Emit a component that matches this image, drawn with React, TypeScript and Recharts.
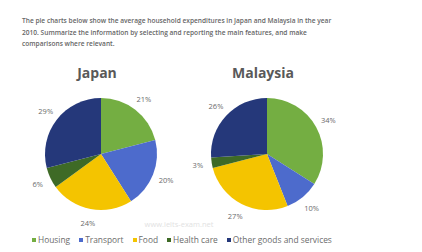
import { PieChart, Pie, Cell } from "recharts";

const categories = ["Housing", "Transport", "Food", "Health care", "Other goods and services"];
const colors = ["#74ae42", "#4d6bcc", "#f4c400", "#3e6a26", "#25387a"];
const japanValues = [21, 20, 24, 6, 29];
const malaysiaValues = [34, 10, 27, 3, 26];

const introLines = [
  "The pie charts below show the average household expenditures in Japan and Malaysia in the year",
  "2010. Summarize the information by selecting and reporting the main features, and make",
  "comparisons where relevant.",
];

const font = "'Open Sans', 'DejaVu Sans', sans-serif";
const RAD = Math.PI / 180;

const toData = (values: number[]) => categories.map((name, i) => ({ name, value: values[i] }));
const japanData = toData(japanValues);
const malaysiaData = toData(malaysiaValues);

const renderLabel = (props: any) => {
  const { cx, cy, midAngle, outerRadius, value } = props;
  const r = outerRadius + 14;
  const x = cx + r * Math.cos(-midAngle * RAD);
  const y = cy + r * Math.sin(-midAngle * RAD);
  return (
    <text x={x} y={y} fill="#6b6b6b" fontSize={7.5} fontFamily={font} textAnchor="middle" dominantBaseline="central">
      {value}%
    </text>
  );
};

const App = () => {
  return (
    <div style={{ position: "absolute", left: 0, top: 0, width: 422, height: 252, background: "#fff", fontFamily: font }}>
      <div style={{ position: "absolute", left: 22, top: 15, fontSize: 6.6, lineHeight: "11.5px", fontWeight: 600, color: "#666", whiteSpace: "nowrap" }}>
        {introLines.map((l) => (
          <div key={l}>{l}</div>
        ))}
      </div>
      <div style={{ position: "absolute", left: 47, width: 100, top: 63, textAlign: "center", fontSize: 14, fontWeight: 700, color: "#595959" }}>
        Japan
      </div>
      <div style={{ position: "absolute", left: 213, width: 100, top: 63, textAlign: "center", fontSize: 14, fontWeight: 700, color: "#595959" }}>
        Malaysia
      </div>
      <div style={{ position: "absolute", left: 0, top: 0 }}>
        <PieChart width={422} height={252}>
          <Pie
            data={japanData}
            dataKey="value"
            cx={96}
            cy={149}
            outerRadius={56}
            startAngle={90}
            endAngle={-270}
            stroke="none"
            label={renderLabel}
            labelLine={false}
            isAnimationActive={false}
          >
            {japanData.map((d, i) => (
              <Cell key={d.name} fill={colors[i]} />
            ))}
          </Pie>
          <Pie
            data={malaysiaData}
            dataKey="value"
            cx={262}
            cy={149}
            outerRadius={56}
            startAngle={90}
            endAngle={-270}
            stroke="none"
            label={renderLabel}
            labelLine={false}
            isAnimationActive={false}
          >
            {malaysiaData.map((d, i) => (
              <Cell key={d.name} fill={colors[i]} />
            ))}
          </Pie>
        </PieChart>
      </div>
      <div style={{ position: "absolute", left: 129, width: 100, top: 219, textAlign: "center", fontSize: 7.5, color: "#e2e2e2" }}>
        www.ielts-exam.net
      </div>
      <div style={{ position: "absolute", left: 32, top: 234, display: "flex", gap: 9, fontSize: 8.4, color: "#6b6b6b", whiteSpace: "nowrap" }}>
        {categories.map((c, i) => (
          <div key={c} style={{ display: "flex", alignItems: "center", gap: 2 }}>
            <span style={{ width: 4, height: 4, background: colors[i], display: "inline-block" }} />
            <span>{c}</span>
          </div>
        ))}
      </div>
    </div>
  );
};

export default App;
